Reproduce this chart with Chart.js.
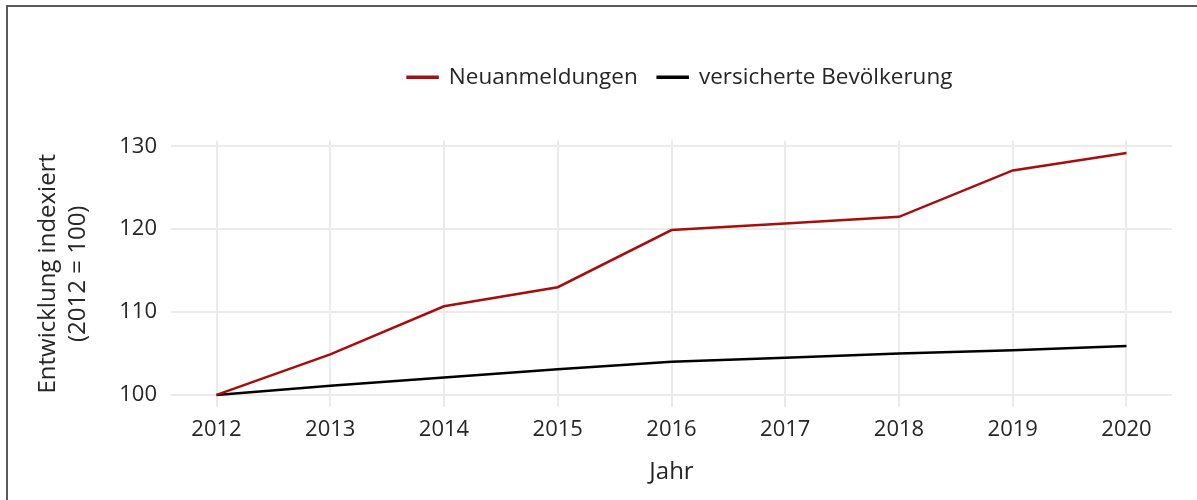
<!DOCTYPE html>
<html>
<head>
<meta charset="utf-8">
<script src="https://cdn.jsdelivr.net/npm/chart.js@4"></script>
<style>
  html, body { margin: 0; padding: 0; background: #fff; overflow: hidden; }
  #wrap { position: relative; width: 1197px; height: 500px; }
  #frame {
    position: absolute; left: 6px; top: 5px; width: 1300px; height: 600px;
    border-left: 2px solid #5a5a5a; border-top: 2px solid #5a5a5a;
    pointer-events: none;
  }
  canvas { position: absolute; left: 0; top: 0; }
</style>
</head>
<body>
<div id="wrap">
  <canvas id="chart" width="1197" height="500"></canvas>
  <div id="frame"></div>
</div>
<script>
// values (index, 2012 = 100)
const years = [2012, 2013, 2014, 2015, 2016, 2017, 2018, 2019, 2020];
const neuanmeldungen = [100, 104.9, 110.7, 113.0, 119.9, 120.7, 121.5, 127.1, 129.2];
const versicherte = [100, 101.1, 102.1, 103.1, 104.0, 104.5, 105.0, 105.4, 105.9];
const yTicks = [100, 110, 120, 130];

const seriesNames = ['Neuanmeldungen', 'versicherte Bevölkerung'];
const textColor = '#262626';
const gridColor = '#ebebeb';

Chart.defaults.font.family = "'Open Sans', sans-serif";
Chart.defaults.color = textColor;

// move the legend so it sits centred above the plot like the original
const legendShift = {
    id: 'legendShift',
    afterLayout(chart) {
        const lg = chart.legend;
        lg.left += 94;
        lg.right += 94;
        lg.top -= 42;
        lg.bottom -= 42;
    }
};

function toPoints(values) {
    return years.map((yr, i) => ({ x: yr, y: values[i] }));
}

const ctx = document.getElementById('chart').getContext('2d');
new Chart(ctx, {
    type: 'line',
    data: {
        datasets: [{
            label: seriesNames[0],
            data: toPoints(neuanmeldungen),
            borderColor: '#a80d0d',
            backgroundColor: '#a80d0d',
            borderWidth: 2.5,
            pointRadius: 0,
            tension: 0
        }, {
            label: seriesNames[1],
            data: toPoints(versicherte),
            borderColor: '#000000',
            backgroundColor: '#000000',
            borderWidth: 2.5,
            pointRadius: 0,
            tension: 0
        }]
    },
    options: {
        responsive: false,
        animation: false,
        layout: { padding: { left: 0, right: 25, top: 88, bottom: 0 } },
        plugins: {
            tooltip: { enabled: false },
            legend: {
                position: 'top',
                labels: {
                    boxWidth: 30,
                    boxHeight: 1,
                    padding: 20,
                    color: textColor,
                    font: { size: 22.5 }
                }
            }
        },
        scales: {
            x: {
                type: 'linear',
                min: 2011.6,
                max: 2020.4,
                afterBuildTicks: s => { s.ticks = years.map(v => ({ value: v })); },
                afterFit: s => { s.height = 93; },
                border: { display: false },
                grid: { color: gridColor, lineWidth: 2, drawTicks: false },
                ticks: {
                    padding: 10,
                    color: textColor,
                    font: { size: 22 },
                    callback: v => String(v)
                },
                title: {
                    display: true,
                    text: 'Jahr',
                    color: textColor,
                    font: { size: 24 },
                    padding: { top: 0, bottom: 13 }
                }
            },
            y: {
                min: 98.54,
                max: 130.71,
                afterBuildTicks: s => { s.ticks = yTicks.map(v => ({ value: v })); },
                afterFit: s => { s.width = 171; },
                border: { display: false },
                grid: { color: gridColor, lineWidth: 2, drawTicks: false },
                ticks: {
                    padding: 14,
                    color: textColor,
                    font: { size: 22 },
                    callback: v => String(v)
                },
                title: {
                    display: true,
                    text: ['Entwicklung indexiert', '(2012 = 100)'],
                    color: textColor,
                    font: { size: 24, lineHeight: 1.25 },
                    padding: { top: 33, bottom: 0 }
                }
            }
        }
    },
    plugins: [legendShift]
});
</script>
</body>
</html>
